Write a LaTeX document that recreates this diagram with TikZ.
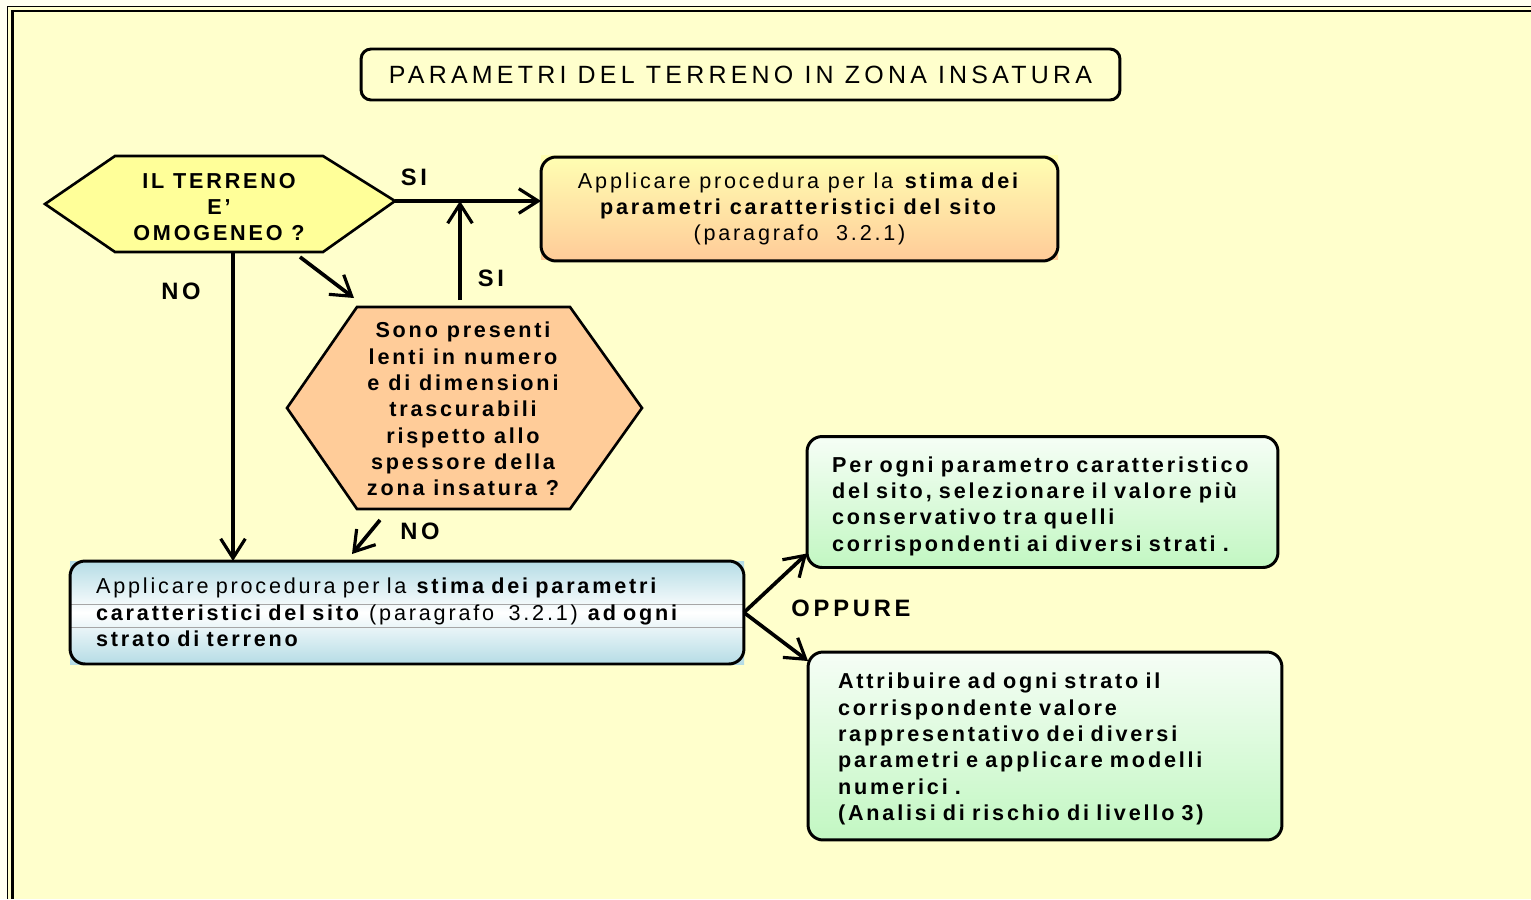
\documentclass[tikz,border=0pt]{standalone}
\usepackage{fontspec}
\setmainfont{Liberation Sans}[LetterSpace=13]
\usepackage{xcolor}
\usepackage{tikz}
\usetikzlibrary{calc,arrows.meta}

\definecolor{fondo}{HTML}{FFFFCC}
\definecolor{giallo}{HTML}{FFFF99}
\definecolor{arancio}{HTML}{FFCC99}
\definecolor{azzurro}{HTML}{B5DCE5}
\definecolor{verde}{HTML}{C2F7C2}

\tikzset{
        freccia/.style={line width=2.1pt, -{Straight Barb[length=11pt,width=14pt,line width=1.8pt]}},
        scatola/.style={draw, line width=1.7pt, rounded corners=0.3cm},
        testo/.style={font=\fontsize{12.3}{15}\selectfont},
        testob/.style={font=\fontsize{12.3}{15}\selectfont\bfseries},
        etichetta/.style={font=\fontsize{13.5}{16}\selectfont\bfseries\addfontfeature{LetterSpace=16}}
}

\begin{document}
\begin{tikzpicture}[x=0.02cm, y=-0.02cm, inner sep=0, outer sep=0]

        \useasboundingbox (0,0) rectangle (1531,899);
        \fill [white!70!fondo] (0,0) rectangle (1531,899);
        \fill [fondo] (7,6) rectangle (1531,899);
        \draw [line width=0.8pt] (7.5,899) -- (7.5,6.5) -- (1531,6.5);
        \draw [line width=1.6pt] (12.5,899) -- (12.5,11) -- (1531,11);

        \node [scatola, fill=fondo, rounded corners=0.2cm, minimum width=15.18cm, minimum height=1.02cm,
               font=\fontsize{14.2}{16}\selectfont\addfontfeature{LetterSpace=17}] (titolo) at (740.5,74.5)
               {PARAMETRI DEL TERRENO IN ZONA INSATURA};

        % primo esagono
        \coordinate (omogW) at (45,204);
        \coordinate (omogE) at (395,201);
        \filldraw [fill=giallo, line width=1.5pt] (omogW) -- (115,156) -- (323,156) -- (omogE) -- (323,252) -- (115,252) -- cycle;
        \node [testob, align=center] (omog) at (219,207) {IL TERRENO\\E'\\OMOGENEO ?};

        % secondo esagono
        \filldraw [fill=arancio, line width=1.5pt] (287,408) -- (357,307) -- (570,307) -- (642,408) -- (570,509) -- (357,509) -- cycle;
        \node [testob, align=center] (lenti) at (463,409)
               {Sono presenti\\lenti in numero\\e di dimensioni\\trascurabili\\rispetto allo\\spessore della\\zona insatura ?};

        \shade [top color=giallo!75!white, bottom color=arancio] (541,155) rectangle (1058,259);
        \node [scatola, testo, align=center, minimum width=10.34cm, minimum height=2.08cm] (box1) at (799.5,209)
               {Applicare procedura per la \textbf{stima dei}\\\textbf{parametri caratteristici del sito}\\(paragrafo~ 3.2.1)};

        \shade [top color=azzurro, bottom color=azzurro, middle color=white] (70,561) rectangle (744,664);
        \draw [black!35, line width=0.5pt] (70,604) -- (744,604);
        \draw [black!35, line width=0.5pt] (70,627) -- (744,627);
        \node [scatola, testo, align=left, text width=12.44cm, minimum width=13.48cm, minimum height=2.06cm] (box3) at (407,612.5)
               {Applicare procedura per la \textbf{stima dei parametri}\\\textbf{caratteristici del sito} (paragrafo~ 3.2.1) \textbf{ad ogni}\\\textbf{strato di terreno}};

        \node [scatola, testob, align=left, top color=verde!15!white, bottom color=verde,
               text width=8.42cm, minimum width=9.42cm, minimum height=2.62cm] (box4) at (1042.5,502)
               {\rule{0pt}{13.5pt}Per ogni parametro caratteristico\\del sito, selezionare il valore più\\conservativo tra quelli\\corrispondenti ai diversi strati .};

        \node [scatola, testob, align=left, top color=verde!15!white, bottom color=verde,
               text width=8.28cm, minimum width=9.48cm, minimum height=3.76cm] (box5) at (1045,746)
               {\rule{0pt}{12.5pt}Attribuire ad ogni strato il\\corrispondente valore\\rappresentativo dei diversi\\parametri e applicare modelli\\numerici .\\(Analisi di rischio di livello 3)};

        % frecce
        \coordinate (omogS) at (233,252);
        \coordinate (omogSE) at (300,257);
        \coordinate (lentiNW) at (354,298);
        \coordinate (lentiN) at (460,300);
        \coordinate (lentiS) at (380,520);
        \coordinate (box3N) at (352,554);

        \draw [freccia] (omogE) -- (omogE -| box1.west);
        \draw [freccia] (lentiN) -- (lentiN |- omogE);
        \draw [freccia] (omogSE) -- (lentiNW);
        \draw [freccia] (omogS) -- (omogS |- box3.north);
        \draw [freccia] (lentiS) -- (box3N);
        \draw [freccia] (box3.east) -- ([yshift=0.28cm]box4.south west);
        \draw [freccia] (box3.east) -- ([yshift=-0.18cm]box5.north west);

        \node [etichetta] (si1) at (414,177) {SI};
        \node [etichetta] (si2) at (491,278) {SI};
        \node [etichetta] (no1) at (181,291) {NO};
        \node [etichetta] (no2) at (420,531) {NO};
        \node [etichetta] (oppure) at (851,608) {OPPURE};

\end{tikzpicture}
\end{document}
